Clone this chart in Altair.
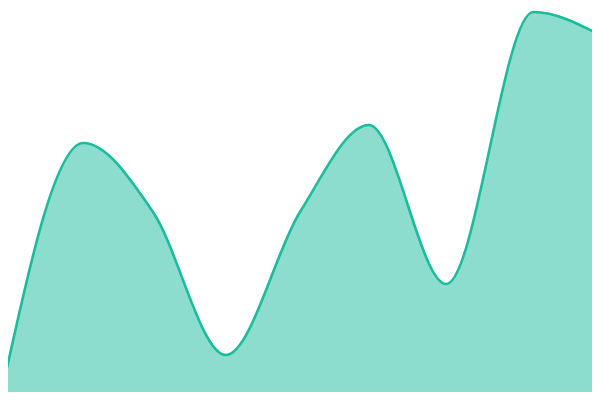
import altair as alt
import pandas as pd

days = [0, 11.1, 20.4, 30.1, 40, 49.2, 59.5, 71.1, 80]
values = [0, 64.25, 47, 11.25, 47, 68.75, 29, 97, 91.25]

df = pd.DataFrame({"day": days, "v": values})

x = alt.X("day:Q", axis=None, scale=alt.Scale(domain=[8 / 7.5, 592 / 7.5], nice=False, zero=False))
y = alt.Y("v:Q", axis=None, scale=alt.Scale(domain=[2, 98], nice=False, zero=False))

area = alt.Chart(df).mark_area(
    interpolate="monotone", color="#1abc9c", opacity=0.5
).encode(x=x, y=y, y2=alt.datum(-10))
line = alt.Chart(df).mark_line(
    interpolate="monotone", color="#1abc9c", strokeWidth=2.6
).encode(x=x, y=y)

chart = (area + line).properties(
    width=584, height=384, padding=0, autosize=alt.AutoSizeParams(type="none")
).configure_view(stroke=None)

chart.save("out.html", embed_options={"renderer": "svg", "actions": False})
